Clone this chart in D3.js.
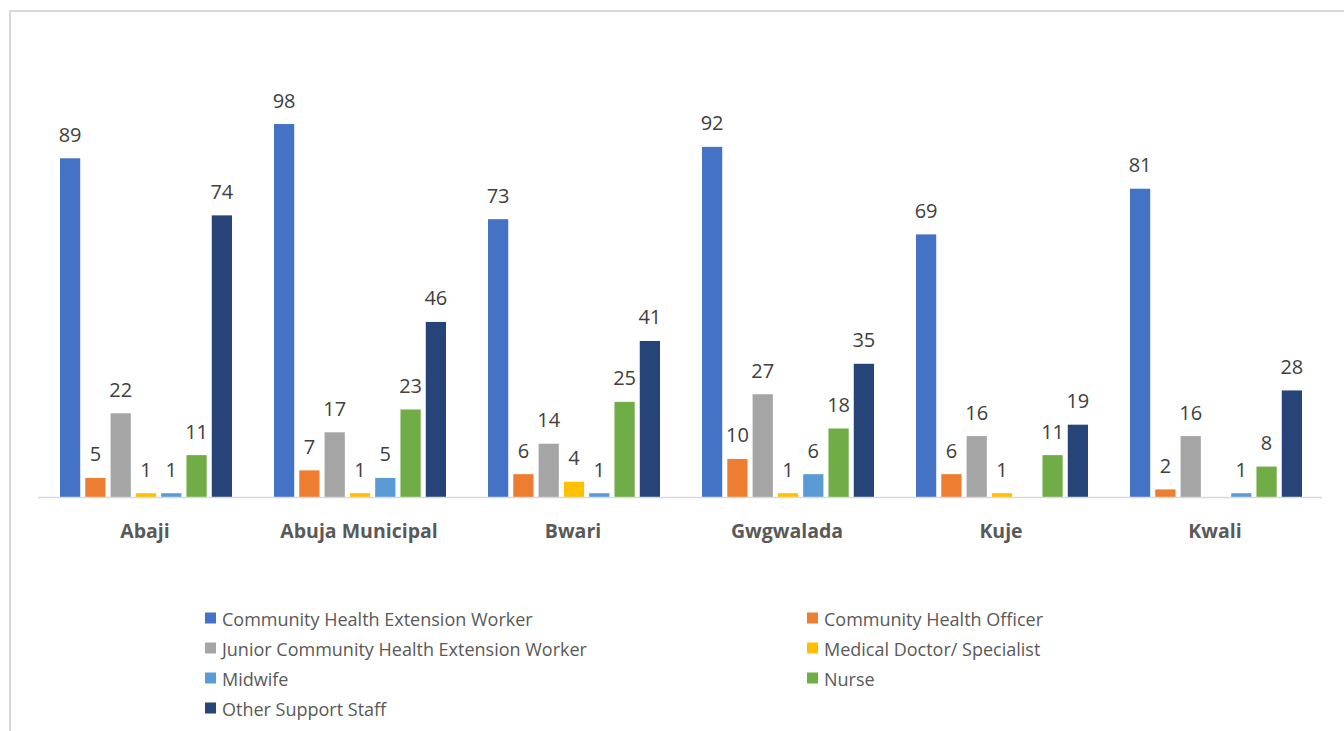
<!DOCTYPE html>
<html><head><meta charset="utf-8">
<script src="https://cdn.jsdelivr.net/npm/d3@7"></script>
<style>body{margin:0;background:#fff}svg{display:block}text{font-family:"Open Sans",sans-serif}</style>
</head><body><svg id="c" width="1344" height="731"></svg>
<script>
const categories = ["Abaji","Abuja Municipal","Bwari","Gwgwalada","Kuje","Kwali"];
const seriesNames = ["Community Health Extension Worker","Community Health Officer","Junior Community Health Extension Worker","Medical Doctor/ Specialist","Midwife","Nurse","Other Support Staff"];
const chew = [89,98,73,92,69,81];
const cho = [5,7,6,10,6,2];
const jchew = [22,17,14,27,16,16];
const doctor = [1,1,4,1,1,0];
const midwife = [1,5,1,6,0,1];
const nurse = [11,23,25,18,11,8];
const other = [74,46,41,35,19,28];
const colors = ["#4472C4","#ED7D31","#A5A5A5","#FFC000","#5B9BD5","#70AD47","#264478"];
const values = [chew,cho,jchew,doctor,midwife,nurse,other];

const svg = d3.select("#c");
svg.append("rect").attr("x",10).attr("y",11).attr("width",1400).attr("height",800)
  .attr("fill","none").attr("stroke","#d9d9d9").attr("stroke-width",2);

const x0 = d3.scaleBand().domain(categories).range([38,1322]);
const x1 = d3.scaleBand().domain(d3.range(7)).range([22,x0.bandwidth()-20]).paddingInner(0.2).paddingOuter(0);
const y = d3.scaleLinear().domain([0,120]).range([497,40.3]);

const g = svg.append("g");
categories.forEach((c,ci)=>{
  values.forEach((arr,si)=>{
    const v = arr[ci];
    if(!v) return;
    const bx = x0(c)+x1(si);
    g.append("rect").attr("x",bx).attr("y",y(v)).attr("width",x1.bandwidth()).attr("height",y(0)-y(v)).attr("fill",colors[si]);
    g.append("text").attr("x",bx+x1.bandwidth()/2).attr("y",y(v)-16.5).attr("text-anchor","middle")
      .attr("font-size",20).attr("fill","#404040").text(v);
  });
});

svg.append("line").attr("x1",38).attr("x2",1322).attr("y1",497.5).attr("y2",497.5).attr("stroke","#d9d9d9").attr("stroke-width",1.5);

const xAxis = d3.axisBottom(x0).tickSize(0).tickPadding(0);
const ax = svg.append("g").attr("transform","translate(0,538)").call(xAxis);
ax.select(".domain").remove();
ax.selectAll("text").attr("font-size",19.5).attr("font-weight","bold").attr("fill","#595959").attr("dy",0)
  .style("font-family","'Open Sans',sans-serif");

const legCols = [205,807], legRows = [618,648,678,708];
seriesNames.forEach((n,i)=>{
  const lx = legCols[i%2], ly = legRows[Math.floor(i/2)];
  svg.append("rect").attr("x",lx).attr("y",ly-5.5).attr("width",11).attr("height",11).attr("fill",colors[i]);
  svg.append("text").attr("x",lx+17).attr("y",ly+7.5).attr("font-size",18).attr("fill","#595959").text(n);
});
</script></body></html>
